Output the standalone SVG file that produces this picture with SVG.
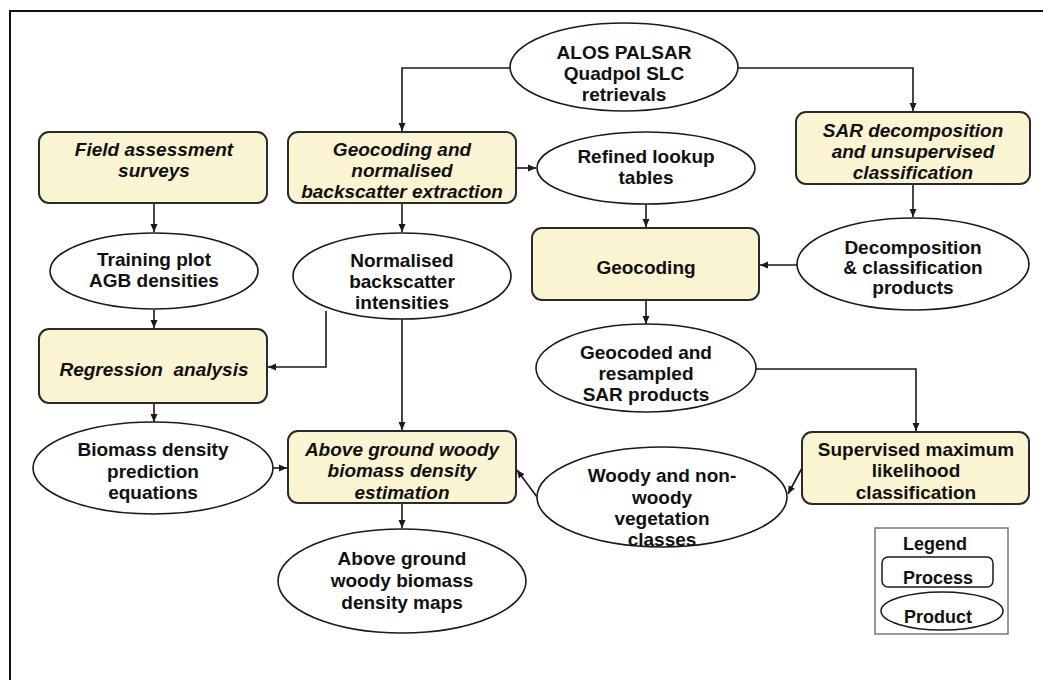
<svg xmlns="http://www.w3.org/2000/svg" width="1043" height="680" viewBox="0 0 1043 680">
<style>
.proc{fill:#FBF4D3;stroke:#2a2a2a;stroke-width:2}
.prod{fill:#fff;stroke:#1a1a1a;stroke-width:1.6}
text{font-family:"Liberation Sans",Arial,sans-serif;font-weight:bold;font-size:19px;fill:#111;text-anchor:middle}
.it{font-style:italic}
.conn path{fill:none;stroke:#1a1a1a;stroke-width:1.6;marker-end:url(#ah)}
</style>
<defs>
<marker id="ah" markerUnits="userSpaceOnUse" markerWidth="9" markerHeight="9" refX="8" refY="4.5" orient="auto">
<path d="M0,1 L8,4.5 L0,8 z" fill="#1a1a1a"/>
</marker>
</defs>
<rect width="1043" height="680" fill="#fff"/>
<path d="M10,680 V11 H1043" fill="none" stroke="#111" stroke-width="2"/>

<g class="conn">
<path d="M510,68 H402 V131"/>
<path d="M738,68 H913 V111"/>
<path d="M154,203 V232"/>
<path d="M402,203 V232"/>
<path d="M516,168 H536"/>
<path d="M913,184 V217"/>
<path d="M646,203 V227"/>
<path d="M797,265 H760"/>
<path d="M154,310 V328"/>
<path d="M326,311 V367 H268"/>
<path d="M402,319 V430"/>
<path d="M646,300 V324"/>
<path d="M755,369 H916 V431"/>
<path d="M154,403 V422"/>
<path d="M273,468 H287"/>
<path d="M802,468 L788,494"/>
<path d="M537,497 L517,470"/>
<path d="M402,503 V528"/>
</g>

<g id="alos">
<ellipse class="prod" cx="624" cy="67" rx="114" ry="44"/>
<text x="624" y="59">ALOS PALSAR</text>
<text x="624" y="80">Quadpol SLC</text>
<text x="624" y="101">retrievals</text>
</g>

<g id="field">
<rect class="proc" x="39" y="132" width="228" height="71" rx="10"/>
<text class="it" x="154" y="156">Field assessment</text>
<text class="it" x="154" y="177">surveys</text>
</g>

<g id="geonorm">
<rect class="proc" x="288" y="132" width="228" height="71" rx="10"/>
<text class="it" x="402" y="156">Geocoding and</text>
<text class="it" x="402" y="177">normalised</text>
<text class="it" x="402" y="198">backscatter extraction</text>
</g>

<g id="refined">
<ellipse class="prod" cx="646" cy="168" rx="109" ry="36"/>
<text x="646" y="163">Refined lookup</text>
<text x="646" y="184">tables</text>
</g>

<g id="sardecomp">
<rect class="proc" x="796" y="112" width="234" height="72" rx="10"/>
<text class="it" x="913" y="137">SAR decomposition</text>
<text class="it" x="913" y="158">and unsupervised</text>
<text class="it" x="913" y="179">classification</text>
</g>

<g id="decompprod">
<ellipse class="prod" cx="913" cy="264" rx="116" ry="46"/>
<text x="913" y="254">Decomposition</text>
<text x="913" y="274">&amp; classification</text>
<text x="913" y="294">products</text>
</g>

<g id="geocoding">
<rect class="proc" x="532" y="228" width="227" height="72" rx="10"/>
<text x="646" y="274">Geocoding</text>
</g>

<g id="training">
<ellipse class="prod" cx="154" cy="271" rx="104" ry="38"/>
<text x="154" y="266">Training plot</text>
<text x="154" y="287">AGB densities</text>
</g>

<g id="normalised">
<ellipse class="prod" cx="402" cy="276" rx="109" ry="43"/>
<text x="402" y="267">Normalised</text>
<text x="402" y="288">backscatter</text>
<text x="402" y="309">intensities</text>
</g>

<g id="regression">
<rect class="proc" x="39" y="329" width="228" height="74" rx="10"/>
<text class="it" x="154" y="376" xml:space="preserve">Regression  analysis</text>
</g>

<g id="geocoded">
<ellipse class="prod" cx="646" cy="368" rx="110" ry="44"/>
<text x="646" y="359">Geocoded and</text>
<text x="646" y="380">resampled</text>
<text x="646" y="401">SAR products</text>
</g>

<g id="biomasseq">
<ellipse class="prod" cx="153" cy="468" rx="120" ry="46"/>
<text x="153" y="456">Biomass density</text>
<text x="153" y="478">prediction</text>
<text x="153" y="499">equations</text>
</g>

<g id="agbest">
<rect class="proc" x="288" y="431" width="228" height="72" rx="10"/>
<text class="it" x="402" y="456">Above ground woody</text>
<text class="it" x="402" y="477">biomass density</text>
<text class="it" x="402" y="499">estimation</text>
</g>

<g id="supervised">
<rect class="proc" x="802" y="432" width="227" height="72" rx="10"/>
<text x="916" y="456">Supervised maximum</text>
<text x="916" y="477">likelihood</text>
<text x="916" y="499">classification</text>
</g>

<g id="woody">
<ellipse class="prod" cx="662" cy="497" rx="125" ry="50"/>
<text x="662" y="482">Woody and non-</text>
<text x="662" y="504">woody</text>
<text x="662" y="525">vegetation</text>
<text x="662" y="546">classes</text>
</g>

<g id="maps">
<ellipse class="prod" cx="402" cy="581" rx="124" ry="52"/>
<text x="402" y="565">Above ground</text>
<text x="402" y="587">woody biomass</text>
<text x="402" y="609">density maps</text>
</g>

<g id="legend">
<rect x="875" y="528" width="133" height="106" fill="#fff" stroke="#777" stroke-width="1.5"/>
<text x="935" y="550" style="font-size:18px">Legend</text>
<rect x="882" y="557" width="111" height="30" rx="6" fill="#fff" stroke="#1a1a1a" stroke-width="1.5"/>
<text x="938" y="584" style="font-size:18px">Process</text>
<ellipse cx="942" cy="611" rx="61" ry="19" fill="#fff" stroke="#1a1a1a" stroke-width="1.5"/>
<text x="938" y="623" style="font-size:18px">Product</text>
</g>
</svg>
